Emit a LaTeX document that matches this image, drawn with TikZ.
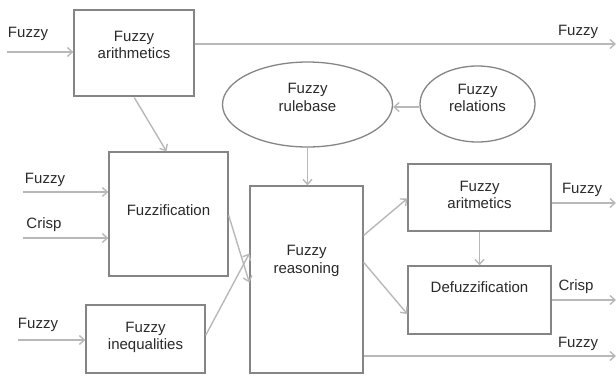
\documentclass[tikz,border=0pt]{standalone}
\usepackage{fontspec}
\setmainfont{Liberation Sans}
\usetikzlibrary{arrows.meta,shapes.geometric}
\definecolor{bordc}{HTML}{858585}
\definecolor{arrc}{HTML}{B8B8B8}
\definecolor{txtc}{HTML}{2A2A2A}
\begin{document}
\begin{tikzpicture}[x=1pt,y=-1pt,
  font=\fontsize{15}{17.5}\selectfont, text=txtc,
  blk/.style={draw=bordc, line width=1.3pt, fill=white, inner sep=0pt, align=center},
  ell/.style={ellipse, draw=bordc, line width=1.3pt, fill=white, inner sep=0pt, align=center},
  conn/.style={draw=arrc, line width=1.4pt, -{Straight Barb[length=5pt,width=9pt]}},
  lbl/.style={inner sep=0pt, align=center}]
\useasboundingbox (0,0) rectangle (616,376);
% boxes
\node[blk, minimum width=120pt, minimum height=86pt] (arith) at (134,53) {};
\node[lbl] (tarith) at (134,45) {Fuzzy\\arithmetics};
\node[blk, minimum width=119pt, minimum height=124pt] (fuzzif) at (168.5,214) {};
\node[lbl] (tfuzzif) at (168.5,210) {Fuzzification};
\node[blk, minimum width=119pt, minimum height=68pt] (ineq) at (145.5,339) {};
\node[lbl] (tineq) at (145.5,337.5) {Fuzzy\\inequalities};
\node[blk, minimum width=113pt, minimum height=187pt] (reas) at (306.5,279.5) {};
\node[lbl] (treas) at (306.5,261) {Fuzzy\\reasoning};
\node[blk, minimum width=143pt, minimum height=67pt] (arit2) at (479.5,197.5) {};
\node[lbl] (tarit2) at (479.5,195) {Fuzzy\\aritmetics};
\node[blk, minimum width=143pt, minimum height=68pt] (defuz) at (479.5,300) {};
\node[lbl] (tdefuz) at (479.5,287) {Defuzzification};
\node[ell, minimum width=170pt, minimum height=85pt] (rule) at (307.5,104.5) {};
\node[lbl] (trule) at (307.5,97.5) {Fuzzy\\rulebase};
\node[ell, minimum width=115pt, minimum height=76pt] (rel) at (477.5,104) {};
\node[lbl] (trel) at (477.5,98) {Fuzzy\\relations};
% coordinates
\coordinate (i1) at (7,52);
\coordinate (i2) at (23,192);
\coordinate (i3) at (23,238);
\coordinate (i4) at (18,340);
\coordinate (o1) at (616,44);
\coordinate (o2) at (616,203);
\coordinate (o3) at (616,300);
\coordinate (o4) at (616,356);
% labels
\node[lbl] (l1) at (28,34) {Fuzzy};
\node[lbl] (l2) at (45,180) {Fuzzy};
\node[lbl] (l3) at (44,225) {Crisp};
\node[lbl] (l4) at (38,325) {Fuzzy};
\node[lbl] (l5) at (578,32) {Fuzzy};
\node[lbl] (l6) at (582,190) {Fuzzy};
\node[lbl] (l7) at (576,287) {Crisp};
\node[lbl] (l8) at (578,344) {Fuzzy};
% connectors
\draw[conn] (i1) -- (arith.west |- i1);
\draw[conn] (arith.east |- o1) -- (o1);
\draw[conn] (i2) -- (fuzzif.west |- i2);
\draw[conn] (i3) -- (fuzzif.west |- i3);
\draw[conn] (i4) -- (ineq.west |- i4);
\draw[conn] (arith.south west) ++(61,1) coordinate (a1) -- ([xshift=-2pt]fuzzif.north);
\draw[conn] (rel.west) ++(0,3) coordinate (r1) -- (rule.east |- r1);
\draw[conn] (rule.south) -- (reas.north -| rule.south);
\draw[conn] (fuzzif.north east) ++(0,64) -- ([yshift=-3pt]reas.west);
\draw[conn] (ineq.north east) ++(0,31) -- ([yshift=26pt]reas.west);
\draw[conn] (reas.north east) ++(0,50) -- ([yshift=-1pt]arit2.west);
\draw[conn] (reas.north east) ++(0,77) -- ([yshift=-14pt]defuz.west);
\draw[conn] (arit2.south) -- (defuz.north);
\draw[conn] (arit2.east |- o2) -- (o2);
\draw[conn] (defuz.east |- o3) -- (o3);
\draw[conn] (reas.east |- o4) -- (o4);
\end{tikzpicture}
\end{document}
